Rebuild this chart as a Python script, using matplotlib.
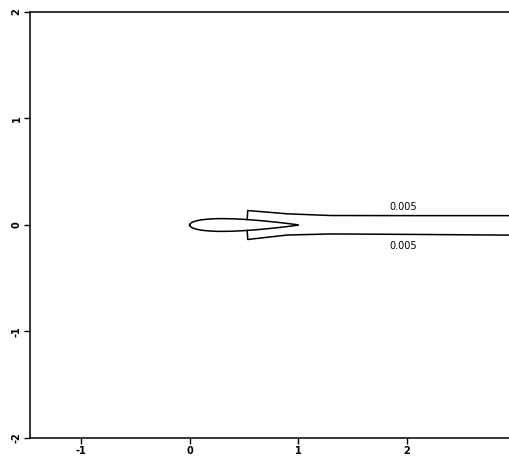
import matplotlib
matplotlib.use("Agg")
import matplotlib.pyplot as plt
import numpy as np

# Airfoil half-thickness (symmetric section)
foil_x = [0.0, 0.005, 0.0125, 0.025, 0.05, 0.075, 0.1, 0.15, 0.2, 0.25, 0.3, 0.4,
          0.5, 0.6, 0.7, 0.8, 0.9, 0.95, 1.0]
foil_t = [0.0, 0.012, 0.019, 0.026, 0.0355, 0.042, 0.047, 0.0535, 0.0574, 0.0594,
          0.060, 0.058, 0.053, 0.0456, 0.0366, 0.0262, 0.0145, 0.0081, 0.0013]

# 0.005 contour (wake) upper and lower branches
wake_up_x = [0.53, 0.535, 0.9, 1.3, 2.0, 2.94]
wake_up_y = [0.052, 0.136, 0.105, 0.089, 0.088, 0.088]
wake_lo_x = [0.53, 0.535, 0.9, 1.3, 2.0, 2.94]
wake_lo_y = [-0.052, -0.136, -0.094, -0.084, -0.088, -0.095]

contour_level = "0.005"
label_pos = [(1.97, 0.165), (1.97, -0.197)]

xticks = [-1, 0, 1, 2]
yticks = [-2, -1, 0, 1, 2]

fig = plt.figure(figsize=(5.09, 4.57), dpi=100)
ax = fig.add_axes([30/509, 1-438/457, 1-30/509+0.002, (438-12)/457])
ax.set_xlim(-1.47, 2.95)
ax.set_ylim(-2, 2)

fx = np.array(foil_x)
ft = np.array(foil_t)
ax.plot(np.concatenate([fx, fx[::-1]]), np.concatenate([ft, -ft[::-1]]),
        color="black", lw=1.1)
ax.plot(wake_up_x, wake_up_y, color="black", lw=1.1)
ax.plot(wake_lo_x, wake_lo_y, color="black", lw=1.1)
for (lx, ly) in label_pos:
    ax.text(lx, ly, contour_level, ha="center", va="center", fontsize=7)

ax.spines["right"].set_visible(False)
for s in ["left", "bottom", "top"]:
    ax.spines[s].set_linewidth(1.1)
ax.set_xticks(xticks)
ax.set_yticks(yticks)
ax.set_xticklabels([str(v) for v in xticks], fontsize=7, fontweight="bold")
ax.set_yticklabels([str(v) for v in yticks], fontsize=7, fontweight="bold",
                   rotation=90, va="center")
ax.tick_params(direction="out", length=4, width=1, pad=2)
ax.tick_params(axis="x", top=False)

fig.savefig("out.png", dpi=100)
